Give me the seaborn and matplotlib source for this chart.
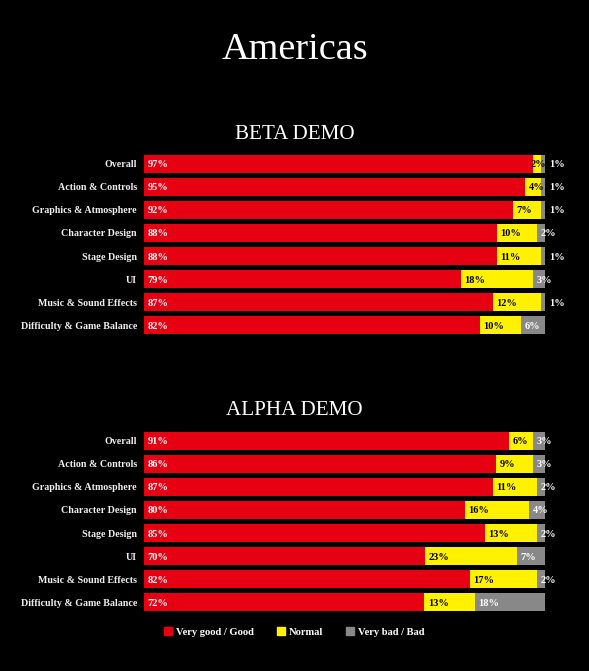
import pandas as pd
import numpy as np
import matplotlib.pyplot as plt
import seaborn as sns

# --- dados ---
categorias = ['Overall', 'Action & Controls', 'Graphics & Atmosphere', 'Character Design',
              'Stage Design', 'UI', 'Music & Sound Effects', 'Difficulty & Game Balance']

beta_bom = [97, 95, 92, 88, 88, 79, 87, 82]
beta_normal = [2, 4, 7, 10, 11, 18, 12, 10]
beta_ruim = [1, 1, 1, 2, 1, 3, 1, 6]

alpha_bom = [91, 86, 87, 80, 85, 70, 82, 72]
alpha_normal = [6, 9, 11, 16, 13, 23, 17, 13]
alpha_ruim = [3, 3, 2, 4, 2, 7, 2, 18]

series = ['Very good / Good', 'Normal', 'Very bad / Bad']
cores = ['#E60012', '#FFF100', '#888888']
cor_texto = ['white', 'black', 'white']

sns.set_theme(style='dark')
plt.rcParams['font.family'] = ['Liberation Serif', 'DejaVu Serif']

fig = plt.figure(figsize=(5.89, 6.71), dpi=100, facecolor='black')

def monta_df(bom, normal, ruim):
    df = pd.DataFrame({'cat': categorias, 'bom': bom, 'normal': normal, 'ruim': ruim})
    total = df[['bom', 'normal', 'ruim']].sum(axis=1)
    # barras empilhadas a 100%
    for c in ['bom', 'normal', 'ruim']:
        df[c + '_p'] = df[c] / total * 100
    df['c1'] = df['bom_p']
    df['c2'] = df['bom_p'] + df['normal_p']
    df['c3'] = df['c2'] + df['ruim_p']
    return df

def desenha(ax, df):
    ax.set_facecolor('black')
    # empilhamento: desenha o acumulado do fim para o começo
    for col, cor in [('c3', cores[2]), ('c2', cores[1]), ('c1', cores[0])]:
        sns.barplot(data=df, y='cat', x=col, color=cor, orient='h', width=0.78,
                    saturation=1, linewidth=0, ax=ax)
    inicios = [np.zeros(len(df)), df['c1'].values, df['c2'].values]
    valores = [df['bom'].values, df['normal'].values, df['ruim'].values]
    for k in range(3):
        for i in range(len(df)):
            x0 = inicios[k][i] + 0.9
            if k == 1 and valores[k][i] <= 2:
                x0 = inicios[k][i] - 0.5
            if k == 2 and valores[k][i] == 1:
                x0 = 101.0
            ax.text(x0, i, f'{valores[k][i]}%', color=cor_texto[k], va='center_baseline',
                    ha='left', fontsize=7.5, fontweight='bold')
    ax.set_xlim(0, 100)
    ax.set_ylim(len(df) - 0.5, -0.5)
    ax.set_xlabel('')
    ax.set_ylabel('')
    ax.set_xticks([])
    ax.tick_params(axis='y', colors='#eeeeee', labelsize=7.2, length=0, pad=5)
    for lab in ax.get_yticklabels():
        lab.set_fontweight('bold')
    for s in ax.spines.values():
        s.set_visible(False)
    ax.grid(False)

ax1 = fig.add_axes([0.2445, 0.4978, 0.681, 0.2757])
desenha(ax1, monta_df(beta_bom, beta_normal, beta_ruim))
ax2 = fig.add_axes([0.2445, 0.0849, 0.681, 0.2757])
desenha(ax2, monta_df(alpha_bom, alpha_normal, alpha_ruim))

fig.text(0.5, 1 - 46 / 671, 'Americas', color='white', fontsize=27.5, ha='center', va='center_baseline')
fig.text(0.5, 1 - 132 / 671, 'BETA DEMO', color='white', fontsize=15.2, ha='center', va='center_baseline')
fig.text(0.5, 1 - 408 / 671, 'ALPHA DEMO', color='white', fontsize=15.2, ha='center', va='center_baseline')

handles = [plt.Rectangle((0, 0), 1, 1, color=c) for c in cores]
fig.legend(handles, series, loc='center', bbox_to_anchor=(0.5, 1 - 632 / 671), ncol=3,
           frameon=False, labelcolor='white', fontsize=7.6, handlelength=0.7,
           handleheight=0.7, handletextpad=0.4, columnspacing=2.2,
           prop={'weight': 'bold', 'size': 7.6})

fig.savefig('out.png', dpi=100, facecolor='black')
